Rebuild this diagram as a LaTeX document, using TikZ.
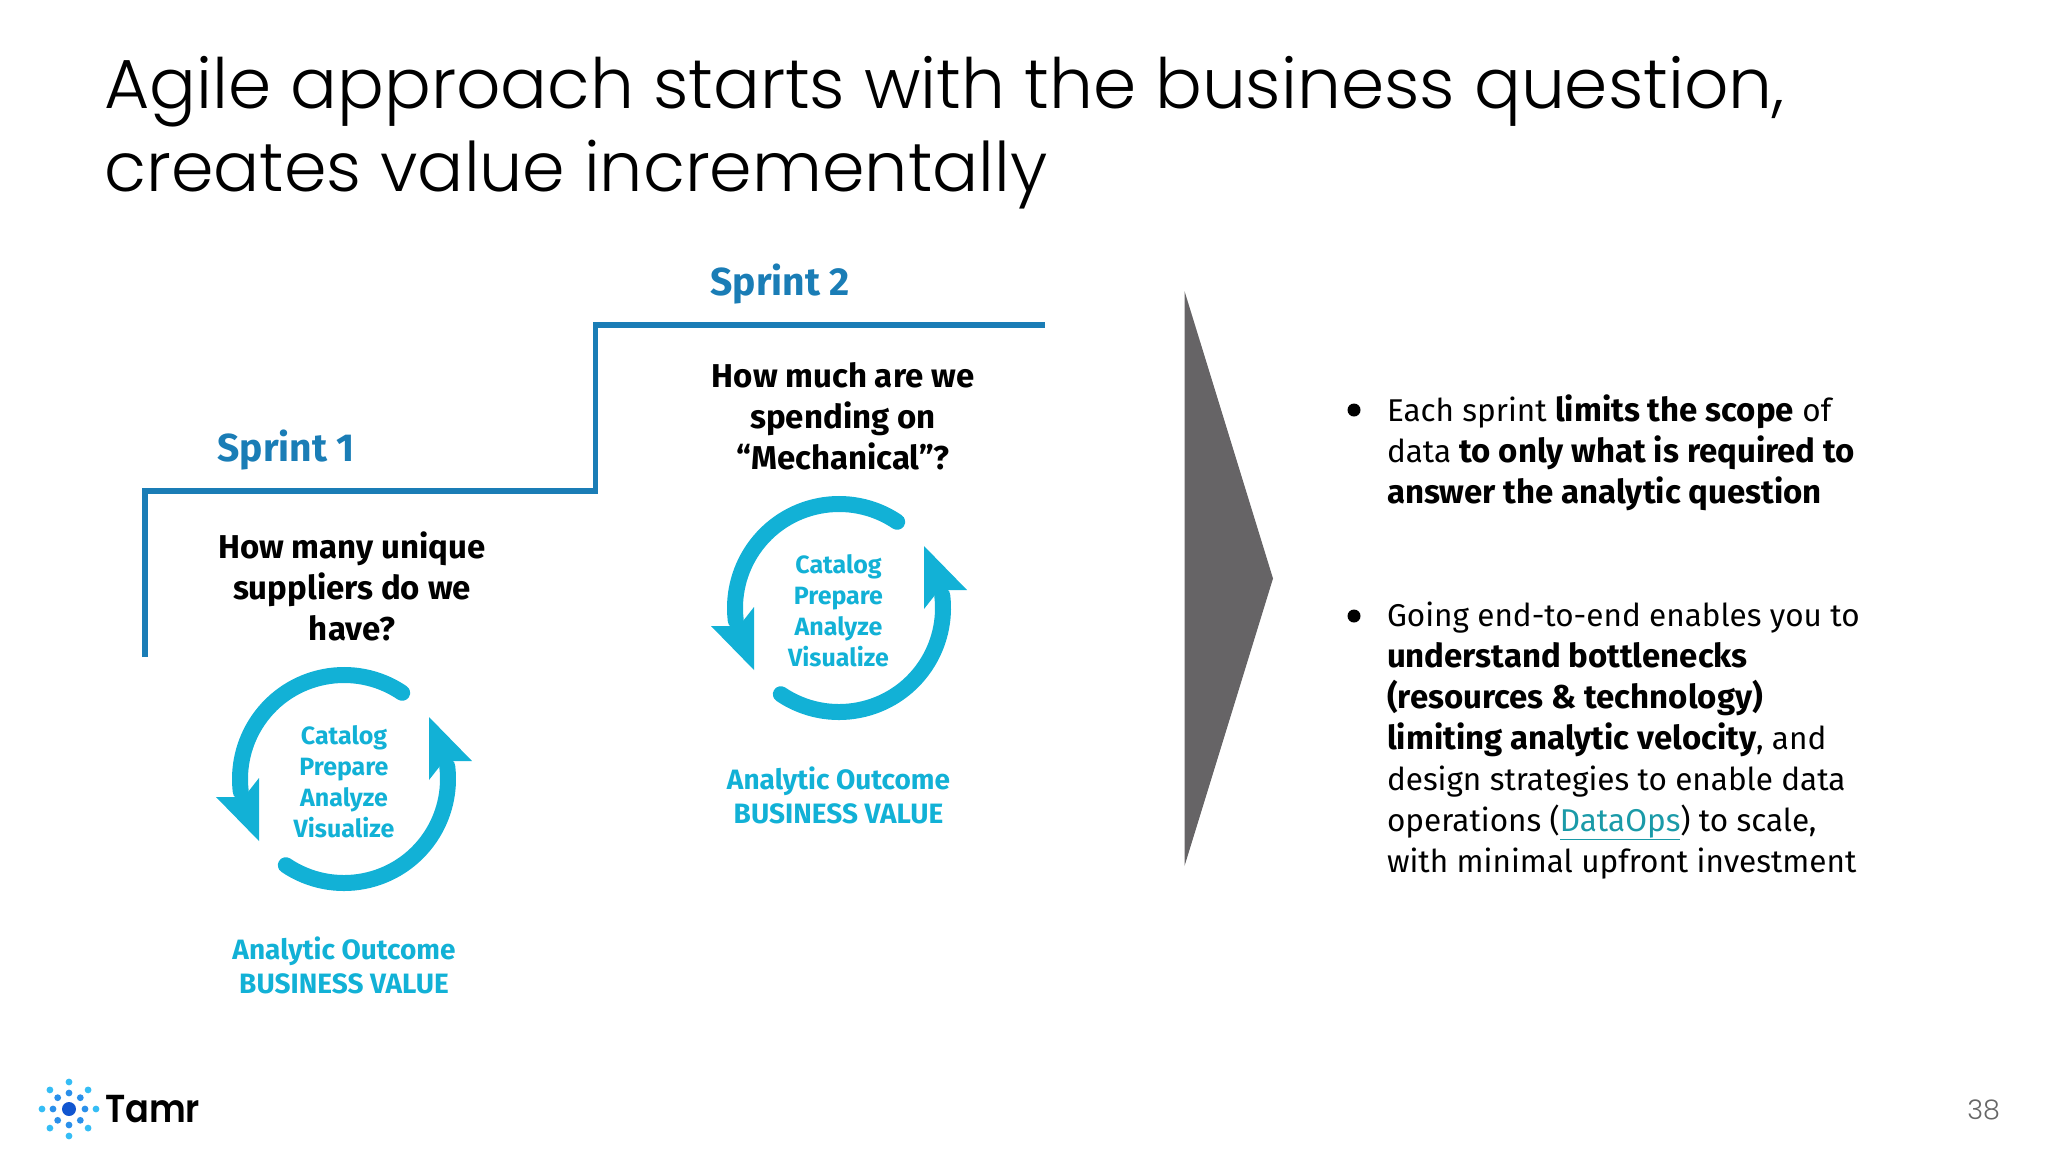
\documentclass[tikz,border=0pt]{standalone}
\usepackage{fontspec}
\setmainfont{Fira Sans}
\newfontfamily\titlefont{Poppins}[UprightFont=* Light]
\newfontfamily\logofont{Poppins}[UprightFont=* SemiBold]
\definecolor{sprintblue}{HTML}{1A7DB6}
\definecolor{loopcyan}{HTML}{12B1D6}
\definecolor{wedgegray}{HTML}{666466}
\definecolor{linkteal}{HTML}{1A9AA8}
\definecolor{dotdark}{HTML}{1155D0}
\definecolor{dotmid}{HTML}{2A8FEA}
\definecolor{dotlight}{HTML}{35BDF5}
\newcommand{\heavy}[1]{{\fontsize{33}{41}\selectfont\bfseries #1}}
\tikzset{
    plain/.style={inner sep=0pt,outer sep=0pt},
    sprintlabel/.style={plain,anchor=base west,text=sprintblue,font=\fontsize{39}{44}\selectfont\bfseries},
    question/.style={plain,anchor=north,align=center,font=\fontsize{33}{41}\selectfont\bfseries},
    steps/.style={plain,align=center,text=loopcyan,font=\fontsize{25}{31}\selectfont\bfseries},
    outcome/.style={plain,anchor=north,align=center,text=loopcyan,font=\fontsize{28}{34}\selectfont\bfseries},
    bullettext/.style={plain,anchor=north west,align=left,font=\fontsize{31.5}{41}\selectfont},
    pics/cycle/.style={code={
        \begin{scope}[y=1pt]
            \draw[loopcyan,line width=16pt,line cap=round] (56:104) arc[start angle=56,end angle=187,radius=104];
            \draw[loopcyan,line width=16pt,line cap=round] (236:104) arc[start angle=236,end angle=367,radius=104];
            \fill[loopcyan] (-128,-18) -- (-100,-18) -- (-96,-13) -- (-85,1) -- (-85,-62) -- cycle;
            \fill[loopcyan] (128,18) -- (100,18) -- (96,13) -- (85,-1) -- (85,62) -- cycle;
        \end{scope}
    }},
}
\begin{document}
\begin{tikzpicture}[x=1pt,y=-1pt]
    \useasboundingbox (0,0) rectangle (2048,1152);
    %% Title
    \node[plain,anchor=base west,font=\fontsize{69.4}{83}\selectfont\titlefont] (title) at (104.5,108)
        {Agile approach starts with the business question,};
    \node[plain,anchor=base west,font=\fontsize{68.4}{83}\selectfont\titlefont] (titleb) at (104.5,191)
        {creates value incrementally};
    %% Stairs
    \draw[sprintblue,line width=5.5pt] (145,657) -- (145,491) -- (595.5,491) -- (595.5,325) -- (1045,325);
    \node[sprintlabel] (sprintone) at (217.5,461.5) {Sprint 1};
    \node[sprintlabel] (sprinttwo) at (710.5,295.5) {Sprint 2};
    \node[question] (askone) at (352,532) {How many unique\\suppliers do we\\have?};
    \node[question] (asktwo) at (843,362) {How much are we\\spending on\\“Mechanical”?};
    %% Loops
    \pic at (344,779) {cycle};
    \pic at (839,608) {cycle};
    \node[steps] (stepsone) at (344,781.5) {Catalog\\Prepare\\Analyze\\Visualize};
    \node[steps] (stepstwo) at (838.5,610.5) {Catalog\\Prepare\\Analyze\\Visualize};
    \node[outcome] (valueone) at (344,936.7) {Analytic Outcome\\BUSINESS VALUE};
    \node[outcome] (valuetwo) at (838.5,767.2) {Analytic Outcome\\BUSINESS VALUE};
    %% Wedge
    \fill[wedgegray] (1184.5,291) -- (1273,578.5) -- (1184.5,866) -- cycle;
    %% Bullets
    \fill (1354,410) circle (6.5);
    \fill (1354,616) circle (6.5);
    \node[bullettext] (pointone) at (1387,394.6) {Each sprint \heavy{limits the scope} of\\data \heavy{to only what is required to}\\\heavy{answer the analytic question}};
    \node[bullettext] (pointtwo) at (1387,602) {Going end-to-end enables you to\\\heavy{understand bottlenecks}\\\heavy{(resources \& technology)}\\\heavy{limiting analytic velocity}, and\\design strategies to enable data\\operations (\textcolor{linkteal}{\underline{DataOps}}) to scale,\\with minimal upfront investment};
    %% Logo
    \fill[dotdark] (69,1109) circle (7);
    \foreach \a in {0,45,...,315} {
        \fill[dotmid] (69,1109) ++(\a:16) circle (3.4);
        \fill[dotlight] (69,1109) ++(\a:27) circle (3.4);
    }
    \node[plain,anchor=base west,xscale=.9,font=\fontsize{39}{39}\selectfont\logofont] (logo) at (105,1122) {Tamr};
    \node[plain,anchor=base east,text=black!60,font=\fontsize{27}{27}\selectfont\titlefont] (pagenum) at (2000,1119) {38};
\end{tikzpicture}
\end{document}
